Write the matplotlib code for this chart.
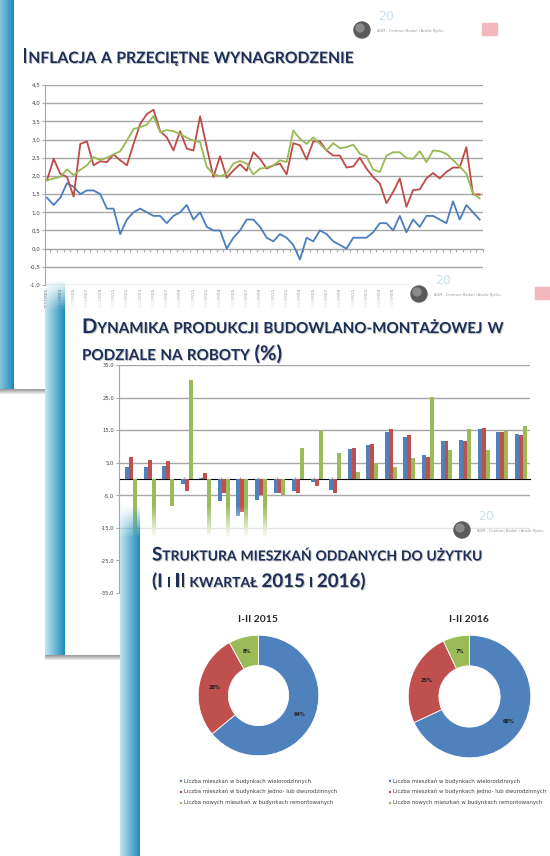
import numpy as np
import matplotlib
matplotlib.use("Agg")
import matplotlib.pyplot as plt
import matplotlib.patheffects as pe
from matplotlib.colors import to_rgb
from matplotlib.patches import Circle, Rectangle
from matplotlib.offsetbox import TextArea, HPacker, AnnotationBbox

W, H = 550, 856

# --- slide 1: inflacja a wynagrodzenie (monthly, 2011M01 .. 2016M06)
months = [f"{2011 + i // 12}M{i % 12 + 1:02d}" for i in range(66)]
line_blue = [1.4, 1.2, 1.4, 1.8, 1.7, 1.5, 1.6, 1.6, 1.5, 1.1, 1.1, 0.4, 0.8, 1.0, 1.1, 1.0,
             0.9, 0.9, 0.7, 0.9, 1.0, 1.2, 0.8, 1.0, 0.6, 0.5, 0.5, 0.0, 0.3, 0.5, 0.8, 0.8,
             0.6, 0.3, 0.2, 0.4, 0.3, 0.1, -0.3, 0.3, 0.2, 0.5, 0.4, 0.2, 0.1, 0.0, 0.3, 0.3,
             0.3, 0.45, 0.7, 0.7, 0.5, 0.9, 0.45, 0.8, 0.6, 0.9, 0.9, 0.8, 0.7, 1.3, 0.8, 1.2,
             1.0, 0.8]
line_red = [1.88, 2.47, 2.06, 1.97, 1.43, 2.88, 2.95, 2.29, 2.4, 2.38, 2.59, 2.43, 2.29, 2.88,
            3.43, 3.7, 3.82, 3.23, 3.06, 2.7, 3.23, 2.75, 2.7, 3.64, 2.79, 1.97, 2.54, 1.95,
            2.15, 2.32, 2.14, 2.65, 2.47, 2.2, 2.29, 2.34, 2.04, 2.9, 2.84, 2.45, 2.95, 2.95,
            2.7, 2.56, 2.56, 2.23, 2.26, 2.5, 2.2, 1.97, 1.79, 1.25, 1.56, 1.93, 1.15, 1.61,
            1.63, 1.93, 2.08, 1.93, 2.11, 2.23, 2.23, 2.79, 1.49, 1.49]
line_green = [1.88, 1.93, 1.97, 2.18, 2.02, 2.17, 2.29, 2.52, 2.43, 2.5, 2.59, 2.68, 2.97, 3.29,
              3.34, 3.41, 3.65, 3.2, 3.26, 3.23, 3.15, 3.05, 2.97, 2.93, 2.25, 2.05, 1.99, 2.06,
              2.34, 2.41, 2.34, 2.04, 2.2, 2.23, 2.29, 2.43, 2.38, 3.25, 3.02, 2.88, 3.06, 2.88,
              2.7, 2.9, 2.76, 2.79, 2.86, 2.61, 2.54, 2.17, 2.11, 2.56, 2.65, 2.65, 2.49, 2.47,
              2.68, 2.38, 2.7, 2.68, 2.61, 2.43, 2.26, 2.06, 1.52, 1.38]

# --- slide 2: dynamika produkcji budowlano-montazowej (%)
bud_blue = [3.6, 3.6, 4.1, -1.5, 0.2, -6.7, -11.5, -6.4, -4.3, -3.6, -1.0,
            -3.4, 9.1, 10.3, 14.3, 13.0, 7.5, 11.6, 12.0, 15.3, 14.5, 13.8]
bud_red = [6.9, 5.9, 5.4, -3.6, 1.7, -4.4, -10.0, -4.8, -4.3, -4.4, -2.3,
           -4.4, 9.4, 10.7, 15.3, 13.5, 6.9, 11.8, 11.6, 15.6, 14.5, 13.6]
bud_green = [-22.0, -21.0, -8.2, 30.4, -17.0, -20.0, -22.0, -20.0, -4.8, 9.4, 14.8,
             7.9, 2.3, 4.8, 3.8, 6.4, 25.3, 8.9, 15.3, 8.9, 14.8, 16.3]

# --- slide 3: struktura mieszkan
pie_labels = ["Liczba mieszkań w budynkach wielorodzinnych",
              "Liczba mieszkań w budynkach jedno- lub dwurodzinnych",
              "Liczba nowych mieszkań w budynkach remontowanych"]
share_2015 = [64, 28, 8]
share_2016 = [68, 25, 7]

BLUE, RED, GREEN = "#4f81bd", "#c0504d", "#9bbb59"
TITLE = "#1c2f58"
GRID = "#a6a6a6"

fig = plt.figure(figsize=(W / 100, H / 100), dpi=100)


def frac(x0, y0, x1, y1):
    return [x0 / W, 1 - y1 / H, (x1 - x0) / W, (y1 - y0) / H]


def slide(x0, y0, x1, y1, z, strip, fade=0, shadow=0):
    ax = fig.add_axes(frac(x0, y0, x1, y1), zorder=z)
    w, h = int(x1 - x0), int(y1 - y0)
    img = np.ones((h, w, 4))
    light = np.array(to_rgb("#bfe4f0"))
    dark = np.array(to_rgb("#1888b8"))
    s0, s1 = strip
    for c in range(max(s0, 0), min(s1, w)):
        t = (c - s0) / (s1 - s0)
        img[:, c, :3] = light * (1 - t) + dark * t
    for r in range(shadow):
        g = 0.62 + 0.36 * r / shadow
        img[h - shadow + r, :, :3] = g
    alpha = np.clip(np.arange(h) / fade, 0, 1) if fade else np.ones(h)
    img[:, :, 3] = alpha[:, None]
    ax.imshow(img, extent=(x0, x1, y1, y0), aspect="auto", interpolation="bilinear")
    ax.set_xlim(x0, x1)
    ax.set_ylim(y1, y0)
    ax.axis("off")
    return ax


def logo(ax, cx, cy, flag=None, backdrop=False):
    if backdrop:
        ax.add_patch(Rectangle((cx - 10, cy - 10), 140, 20, color="white"))
    ax.add_patch(Circle((cx, cy), 8, color="#5a5a5a"))
    ax.add_patch(Circle((cx - 2, cy - 2), 4, color="#8a8a8a"))
    ax.text(cx + 16, cy - 14, "20", color="#c6e0ee", fontsize=9, va="center")
    ax.text(cx + 15, cy + 1, "AGM - Centrum Badań i Analiz Rynku", fontsize=2.6,
            color="#9a9a9a", va="center")
    if flag is not None:
        ax.add_patch(Rectangle((flag, cy - 7), 15, 12, color="#f2b6bc"))


def is_big(ch):
    return ch.isupper() or ch.isdigit() or ch in "()%"


def title(x, y, text, big, small, z):
    shadow = [pe.SimplePatchShadow(offset=(0.7, -0.7), shadow_rgbFace="#9a9a9a", alpha=0.6),
              pe.Normal()]
    words = []
    for word in text.split(" "):
        runs, cur, kind = [], "", None
        for ch in word:
            b = is_big(ch)
            if kind is not None and b != kind:
                runs.append((cur, kind))
                cur = ""
            cur += ch
            kind = b
        runs.append((cur, kind))
        kids = [TextArea(r.upper(), textprops=dict(fontsize=big if b else small,
                                                   fontweight="bold", color=TITLE,
                                                   family="Lato", path_effects=shadow))
                for r, b in runs]
        words.append(HPacker(children=kids, align="baseline", pad=0, sep=0))
    box = HPacker(children=words, align="baseline", pad=0, sep=small * 0.28)
    ab = AnnotationBbox(box, (x / W, 1 - y / H), xycoords="figure fraction",
                        box_alignment=(0, 0.5), frameon=False, pad=0, zorder=z)
    fig.add_artist(ab)


def comma(v):
    return f"{v:.1f}".replace(".", ",")


# ---------------- slide 1
bg1 = slide(0, 0, 550, 394, 1, strip=(-8, 14), shadow=5)
logo(bg1, 362, 30, flag=482)
title(22, 57, "Inflacja a przeciętne wynagrodzenie", 15, 11.3, 2.5)

ax1 = fig.add_axes(frac(45, 85, 483, 285), zorder=2)
ax1.set_facecolor("none")
x = np.arange(len(months))
ax1.plot(x, line_blue, color="#4a7ebb", lw=1.3)
ax1.plot(x, line_red, color="#be4b48", lw=1.3)
ax1.plot(x, line_green, color="#98b954", lw=1.3)
ax1.set_xlim(-0.3, 65.5)
ax1.set_ylim(-1, 4.5)
yt = np.arange(-1, 4.51, 0.5)
ax1.set_yticks(yt)
ax1.set_yticklabels([comma(v) for v in yt])
ax1.grid(axis="y", color=GRID, lw=1.0)
ax1.set_axisbelow(True)
for s in ["top", "right", "bottom"]:
    ax1.spines[s].set_visible(False)
ax1.spines["left"].set_color(GRID)
ax1.tick_params(axis="y", length=2, color=GRID, labelsize=4, labelcolor="#404040", pad=1.5)
# labels from 2015M07 on sit under the slide-2 logo and are covered anyway
shown = [m if i < 54 else "" for i, m in enumerate(months)]
ax1.set_xticks(x[::2])
ax1.set_xticklabels(shown[::2], rotation=90, fontsize=3.2, color="#555555")
ax1.tick_params(axis="x", length=0, pad=2)
zero1 = ax1.secondary_xaxis(1 / 5.5)
zero1.set_xticks(np.arange(-0.5, 66, 1))
zero1.set_xticklabels([])
zero1.tick_params(length=1.8, color=GRID)
zero1.spines["bottom"].set_color(GRID)

# ---------------- slide 2
bg2 = slide(45, 280, 550, 660, 3, strip=(0, 20), fade=30, shadow=5)
logo(bg2, 419, 294, flag=535, backdrop=True)
title(82, 327, "Dynamika produkcji budowlano-montażowej w", 14.5, 10.9, 4.5)
title(82, 354, "podziale na roboty (%)", 14.5, 10.9, 4.5)

ax2 = fig.add_axes(frac(119, 365, 530, 593), zorder=4)
ax2.set_facecolor("none")
g = np.arange(len(bud_blue))
bw = 0.215
ax2.bar(g - bw, bud_blue, bw, color=BLUE)
ax2.bar(g, bud_red, bw, color=RED)
ax2.bar(g + bw, bud_green, bw, color=GREEN)
ax2.set_xlim(-0.65, 21.5)
ax2.set_ylim(-35, 35)
yt2 = np.arange(-35, 36, 10)
ax2.set_yticks(yt2)
ax2.set_yticklabels([comma(v) for v in yt2])
ax2.grid(axis="y", color=GRID, lw=1.0)
ax2.set_axisbelow(True)
for s in ["top", "right", "bottom"]:
    ax2.spines[s].set_visible(False)
ax2.spines["left"].set_color(GRID)
ax2.tick_params(axis="y", length=2, color=GRID, labelsize=3.8, labelcolor="#404040", pad=1.5)
ax2.set_xticks([])
zero2 = ax2.secondary_xaxis(0.5)
zero2.set_xticks(np.arange(-0.15, 22, 1))
zero2.set_xticklabels([])
zero2.tick_params(length=1.8, color=GRID)
zero2.spines["bottom"].set_color(GRID)

# ---------------- slide 3
bg3 = slide(120, 505, 550, 856, 5, strip=(0, 20), fade=32)
logo(bg3, 462, 530)
title(152, 555, "Struktura mieszkań oddanych do użytku", 13.5, 10, 6.5)
title(152, 581, "(I i II kwartał 2015 i 2016)", 13.5, 10, 6.5)

for share, box, cx, lx, year in [(share_2015, (197, 634, 320, 757), 258, 179, "2015"),
                                 (share_2016, (407, 634, 532, 759), 469, 388, "2016")]:
    ax = fig.add_axes(frac(*box), zorder=6)
    wedges, _, _ = ax.pie(share, colors=[BLUE, RED, GREEN], startangle=90, counterclock=False,
                          wedgeprops=dict(width=0.5, edgecolor="white", linewidth=0.6),
                          autopct=lambda p: f"{p:.0f}%", pctdistance=0.75,
                          textprops=dict(fontsize=3.6, color="#222222", fontweight="bold"))
    ax.set_xlim(-1.02, 1.02)
    ax.set_ylim(-1.02, 1.02)
    ax.legend(wedges, pie_labels, loc="upper left", bbox_to_anchor=(lx / W, 1 - 778 / H),
              bbox_transform=fig.transFigure, frameon=False, fontsize=3.9,
              handlelength=0.6, handleheight=0.6, handletextpad=0.4, labelspacing=1.0,
              borderpad=0, borderaxespad=0, labelcolor="#404040")
    fig.text(cx / W, 1 - 619 / H, f"I-II {year}", ha="center", va="center", fontsize=7.5,
             fontweight="bold", color="#262626", family="Lato", zorder=7)

fig.savefig("out.png", dpi=100, facecolor="white")
